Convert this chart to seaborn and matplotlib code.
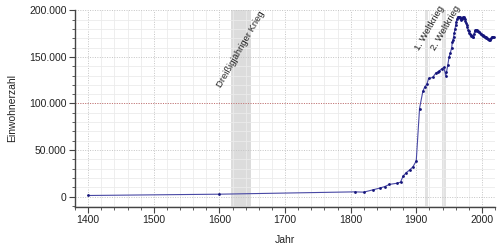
import matplotlib
matplotlib.use("Agg")
import matplotlib.pyplot as plt
import matplotlib.ticker as mticker
import seaborn as sns
import pandas as pd

# ---- data ----
years = [1400, 1600, 1806, 1820, 1834, 1844, 1852, 1859, 1870, 1876, 1880, 1885,
         1890, 1895, 1900, 1905, 1910, 1913, 1916, 1919, 1925, 1930, 1933, 1935,
         1939, 1942, 1945, 1946, 1948, 1950, 1952, 1954, 1955, 1956, 1957, 1958,
         1959, 1960, 1961, 1962, 1963, 1964, 1965, 1966, 1967, 1968, 1969, 1970,
         1971, 1972, 1973, 1974, 1975, 1976, 1977, 1978, 1979, 1980, 1981, 1982,
         1983, 1984, 1985, 1986, 1987, 1988, 1989, 1990, 1991, 1992, 1993, 1994,
         1995, 1996, 1997, 1998, 1999, 2000, 2001, 2002, 2003, 2004, 2005, 2006,
         2007, 2008, 2009, 2010, 2011, 2012, 2013, 2014, 2015, 2016, 2017, 2018]
population = [1100, 2500, 5000, 4700, 7200, 9000, 10700, 13000, 14200, 15400, 22000, 25800,
              28600, 32000, 38300, 94500, 113000, 118000, 120500, 127000, 128000, 133000, 134000, 135000,
              137500, 138800, 130000, 133500, 141000, 150000, 154500, 160000, 166000, 168500, 172000, 176000,
              180000, 184000, 188000, 191000, 192500, 193000, 192500, 193000, 191500, 189500, 190500, 192000,
              193000, 193000, 192000, 190500, 189000, 187000, 184500, 182000, 179500, 177500, 176000, 175000,
              174000, 173000, 172500, 172000, 171500, 175000, 177500, 178500, 179000, 178500, 178000, 177500,
              177000, 176500, 176000, 175000, 174500, 174000, 173500, 173000, 172500, 172000, 171500, 171000,
              170500, 170000, 169500, 169000, 168000, 168500, 169000, 170000, 171000, 171500, 171500, 171000]

war_labels = ["Dreißigjähriger Krieg", "1. Weltkrieg", "2. Weltkrieg"]
war_start = [1618, 1914, 1939]
war_end = [1648, 1918, 1945]

x_label = "Jahr"
y_label = "Einwohnerzahl"

df = pd.DataFrame({"Jahr": years, "Einwohnerzahl": population})

sns.set_style("white")
plt.rcParams["font.family"] = ["Liberation Sans", "DejaVu Sans"]

fig = plt.figure(figsize=(5, 2.5), dpi=100)
ax = fig.add_axes([0.15, 0.173, 0.84, 0.787])

# shaded war periods
shade_colors = ["#dcdcdc", "#e2e2e2", "#e2e2e2"]
for s, e, c in zip(war_start, war_end, shade_colors):
    ax.axvspan(s, e, color=c, zorder=0, lw=0)

sns.lineplot(data=df, x="Jahr", y="Einwohnerzahl", ax=ax, color="#4848a4",
             lw=0.8, marker="o", markersize=2.0, markeredgewidth=0,
             markerfacecolor="#14147a", zorder=3)

ax.set_xlim(1380, 2020)
ax.set_ylim(-11000, 200500)

ax.xaxis.set_major_locator(mticker.MultipleLocator(100))
ax.xaxis.set_minor_locator(mticker.MultipleLocator(20))
ax.yaxis.set_major_locator(mticker.MultipleLocator(50000))
ax.yaxis.set_minor_locator(mticker.MultipleLocator(10000))
ax.yaxis.set_major_formatter(mticker.FuncFormatter(lambda v, p: f"{int(v):,}".replace(",", ".")))

ax.grid(which="minor", color="#ebebeb", lw=0.6, ls="-", zorder=1)
ax.grid(which="major", color="#c4c4c4", lw=0.7, ls=(0, (1, 1.5)), zorder=1)
ax.axhline(100000, color="#c87070", lw=0.7, ls=(0, (1, 1.5)), zorder=2)

for side in ["top", "right"]:
    ax.spines[side].set_visible(False)
for side in ["left", "bottom"]:
    ax.spines[side].set_color("#444444")
    ax.spines[side].set_linewidth(1.0)

ax.tick_params(which="major", direction="out", length=4, width=0.8, color="#444444",
               labelsize=7.5, labelcolor="#222222", left=True, bottom=True, pad=2)
ax.tick_params(which="minor", direction="out", length=2.5, width=0.6, color="#444444",
               left=True, bottom=True)

ax.set_xlabel(x_label, fontsize=7.5, color="#222222", labelpad=7)
ax.set_ylabel(y_label, fontsize=7.5, color="#222222", labelpad=9)

# war labels
label_pos = [(1633, 158000), (1920, 181000), (1945.5, 181000)]
for txt, (lx, ly) in zip(war_labels, label_pos):
    ax.text(lx, ly, txt, rotation=60, ha="center", va="center", fontsize=6.8,
            color="#222222", zorder=4, rotation_mode="anchor")

fig.savefig("out.png", dpi=100)
